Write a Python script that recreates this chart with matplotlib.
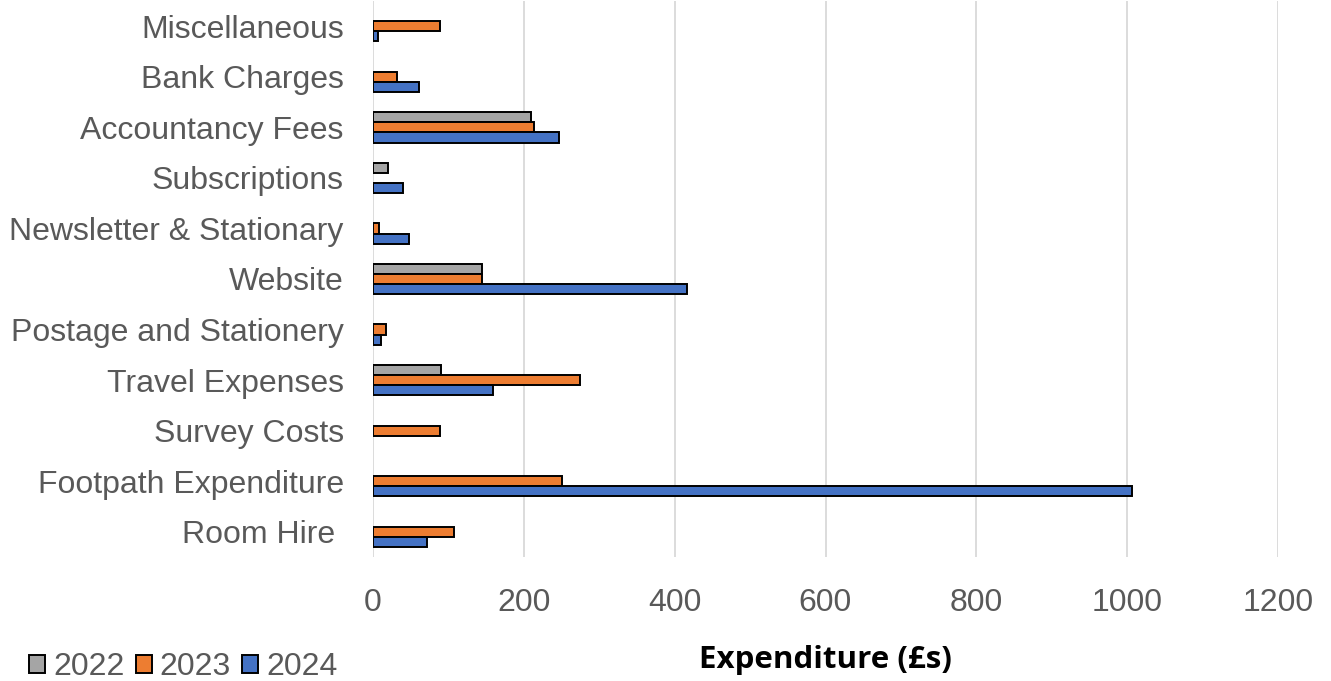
import matplotlib
matplotlib.use("Agg")
import matplotlib.pyplot as plt
import numpy as np
from matplotlib.patches import Patch

categories = ["Room Hire ", "Footpath Expenditure", "Survey Costs", "Travel Expenses",
              "Postage and Stationery", "Website", "Newsletter & Stationary",
              "Subscriptions", "Accountancy Fees", "Bank Charges", "Miscellaneous"]
years = ["2022", "2023", "2024"]
v2022 = [0, 0, 0, 90, 0, 144, 0, 20, 210, 0, 0]
v2023 = [108, 250, 89, 275, 17, 144, 8, 0, 214, 32, 89]
v2024 = [72, 1006, 0, 159, 11, 416, 48, 40, 246, 61, 7]
colors = ["#A5A5A5", "#ED7D31", "#4472C4"]
xticks = [0, 200, 400, 600, 800, 1000, 1200]

plt.rcParams['font.family'] = ['Liberation Sans', 'DejaVu Sans']
fig = plt.figure(figsize=(13.31, 6.81), dpi=100)
ax = fig.add_axes([373/1331, 1-557/681, (1278-373)/1331, 556/681])

y = np.arange(len(categories))
h = 0.2
series = [v2022, v2023, v2024]
offsets = [h, 0, -h]
for vals, off, c in zip(series, offsets, colors):
    vals = np.asarray(vals, dtype=float)
    m = vals > 0
    ax.barh(y[m] + off, vals[m], height=h, color=c, edgecolor="black", linewidth=1.4, zorder=3)

ax.set_xlim(0, 1200)
ax.set_ylim(-0.5, len(categories) - 0.5)
ax.set_xticks(xticks)
ax.set_xticklabels([str(t) for t in xticks])
ax.set_yticks(y)
ax.set_yticklabels(categories)
ax.tick_params(axis='both', length=0, labelsize=23, colors="#595959")
ax.tick_params(axis='x', pad=22)
ax.tick_params(axis='y', pad=21)
ax.grid(axis='x', color="#D9D9D9", linewidth=1.3, zorder=0)
ax.set_axisbelow(True)
for s in ax.spines.values():
    s.set_visible(False)

ax.set_xlabel("Expenditure (£s)", fontsize=22.5, fontweight='bold', color="black",
              family=['Open Sans', 'DejaVu Sans'], labelpad=19.5)

handles = [Patch(facecolor=c, edgecolor="black", linewidth=1.4) for c in colors]
leg = fig.legend(handles, years, loc='lower left', bbox_to_anchor=(0.0075, -0.03),
                 ncol=3, frameon=False, fontsize=23, handlelength=0.5, handleheight=0.5,
                 handletextpad=0.25, columnspacing=0.35, borderaxespad=0.2)
for t in leg.get_texts():
    t.set_color("#595959")

fig.savefig("out.png", dpi=100)
